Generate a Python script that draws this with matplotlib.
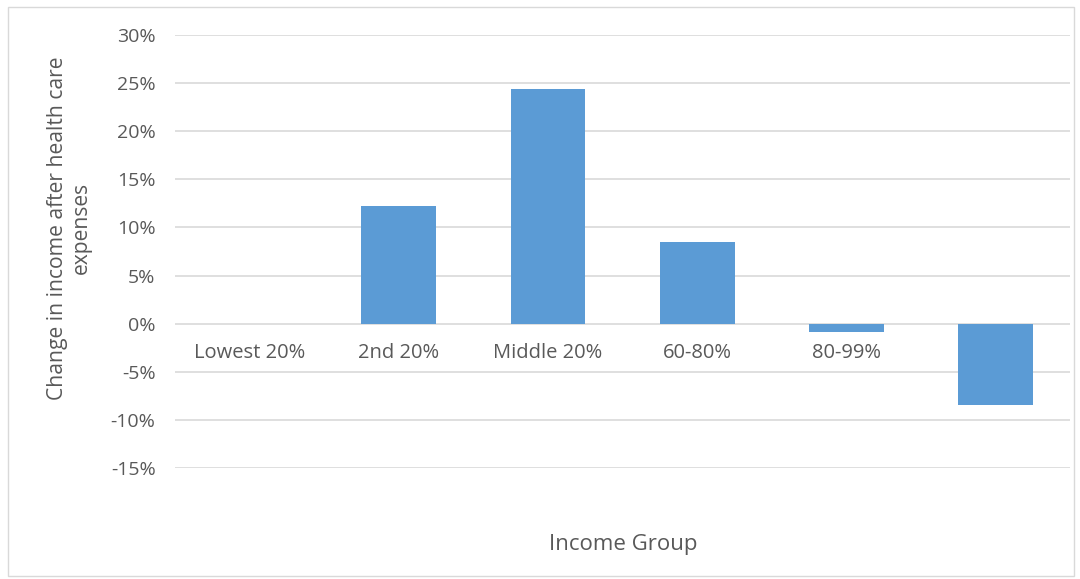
import matplotlib.pyplot as plt
from matplotlib.patches import Rectangle
from matplotlib.ticker import FuncFormatter

plt.rcParams['font.family'] = ['Open Sans', 'DejaVu Sans']

# 数据
groups = ['Lowest 20%', '2nd 20%', 'Middle 20%', '60-80%', '80-99%', '']
change = [0.0, 12.2, 24.4, 8.5, -0.9, -8.5]
yticks = [-15, -10, -5, 0, 5, 10, 15, 20, 25, 30]

grey = '#595959'

fig = plt.figure(figsize=(10.8, 5.79), dpi=100)
ax = fig.add_axes([0.162, 0.1917, 0.829, 0.7479])

# 条形图
x = list(range(len(groups)))
ax.bar(x, change, width=0.5, color='#5b9bd5', zorder=3)

ax.set_xlim(-0.5, len(groups) - 0.5)
ax.set_ylim(-15, 30)
ax.set_yticks(yticks)
ax.yaxis.set_major_formatter(FuncFormatter(lambda v, p: f'{v:.0f}%'))
ax.grid(axis='y', color='#d9d9d9', linewidth=1.2, zorder=0)

for s in ax.spines.values():
    s.set_visible(False)
# x轴标签放在 0 线下方
ax.spines['bottom'].set_position(('data', 0))
ax.set_xticks(x)
ax.set_xticklabels(groups)
ax.tick_params(axis='x', length=0, pad=14, labelsize=14.5, colors=grey)
ax.tick_params(axis='y', length=0, pad=14, labelsize=14, colors=grey)

fig.text(0.064, 0.606, 'Change in income after health care\nexpenses', rotation=90,
         ha='center', va='center', fontsize=15.2, color=grey, linespacing=1.2)
fig.text(0.577, 0.059, 'Income Group', ha='center', va='center', fontsize=16, color=grey)

# 外框
fig.patches.append(Rectangle((0.007, 0.006), 0.987, 0.982, transform=fig.transFigure,
                             fill=False, edgecolor='#d9d9d9', linewidth=1))

fig.savefig('out.png', dpi=100)
